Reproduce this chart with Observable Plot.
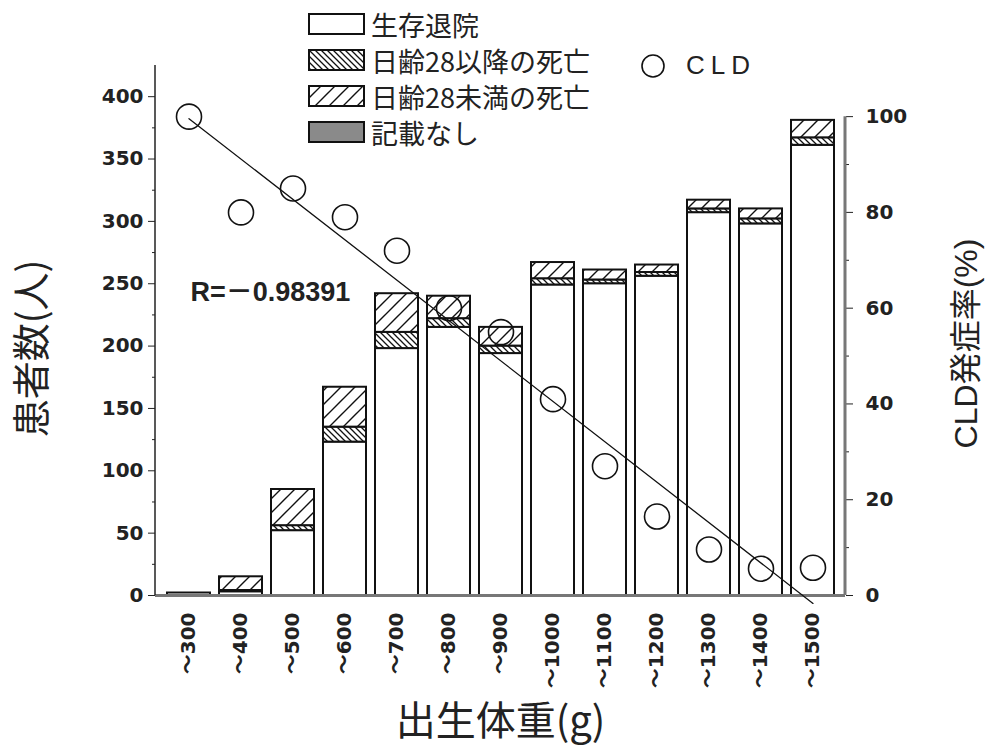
<!DOCTYPE html>
<html>
<head>
<meta charset="utf-8">
<script src="https://cdn.jsdelivr.net/npm/d3@7"></script>
<script src="https://cdn.jsdelivr.net/npm/@observablehq/plot@0.6"></script>
<style>
  body { margin: 0; background: #fff; }
  #wrap { position: relative; width: 986px; height: 756px; overflow: hidden; font-family: "Noto Sans CJK JP", sans-serif; color: #222; }
  #wrap > svg { position: absolute; left: 0; top: 0; }
  .legend { position: absolute; left: 308px; top: 6px; }
  .row { display: flex; align-items: center; height: 36px; font-size: 27px; line-height: 1; }
  .row svg { margin-right: 6px; flex: none; }
  .cldleg { position: absolute; left: 640px; top: 50px; display: flex; align-items: center; font-family: "Liberation Sans", sans-serif; font-size: 26px; letter-spacing: 6px; }
  .cldleg svg { margin-right: 20px; }
</style>
</head>
<body>
<svg width="0" height="0" style="position:absolute">
  <defs>
    <pattern id="pLate" patternUnits="userSpaceOnUse" width="6" height="6">
      <rect width="6" height="6" fill="white"/>
      <path d="M0,0L6,6M-1,5L1,7M5,-1L7,1" stroke="#111" stroke-width="1.3"/>
    </pattern>
    <pattern id="pEarly" patternUnits="userSpaceOnUse" width="14" height="14">
      <rect width="14" height="14" fill="white"/>
      <path d="M0,14L14,0M-2,2L2,-2M12,16L16,12" stroke="#111" stroke-width="1.4"/>
    </pattern>
  </defs>
</svg>
<div id="wrap"></div>
<script>
// ---- data ----
const categories = ["〜300","〜400","〜500","〜600","〜700","〜800","〜900","〜1000","〜1100","〜1200","〜1300","〜1400","〜1500"];
const statusNames = ["生存退院","日齢28以降の死亡","日齢28未満の死亡","記載なし"];
const alive      = [2, 3, 52, 123, 198, 215, 194, 249, 250, 256, 307, 298, 361];
const lateDeath  = [0, 1,  4,  12,  13,   7,   6,   5,   3,   3,   3,   4,   6];
const earlyDeath = [0, 11, 29, 32,  31,  18,  15,  13,   8,   6,   7,   8,  14];
const noRecord   = [0, 0,  0,   0,   0,   0,   0,   0,   0,   0,   0,   0,   0];
const cldRate    = [100, 80, 85, 79, 72, 60, 55, 41, 27, 16.5, 9.6, 5.6, 5.8];
const leftTicks  = [0, 50, 100, 150, 200, 250, 300, 350, 400];
const rightTicks = [0, 20, 40, 60, 80, 100];
const rLabel = "R=－0.98391";
const xTitle = "出生体重(g)";
const yTitle = "患者数(人)";
const y2Title = "CLD発症率(%)";
const cldLabel = "CLD";

// scale factor: 100% on right axis corresponds to 384 patients on left axis
const k = 3.84;

const series = [alive, lateDeath, earlyDeath, noRecord];
const stack = [];
categories.forEach((c, i) => {
  series.forEach((s, j) => { if (s[i] > 0) stack.push({cat: c, status: statusNames[j], value: s[i]}); });
});
const cld = categories.map((c, i) => ({cat: c, rate: cldRate[i]}));

// least-squares regression of CLD rate on category index
const idx = d3.range(categories.length);
const mx = d3.mean(idx), my = d3.mean(cldRate);
const b = d3.sum(idx, i => (i - mx) * (cldRate[i] - my)) / d3.sum(idx, i => (i - mx) ** 2);
const a = my - b * mx;
const fit = [0, categories.length - 1].map(i => ({cat: categories[i], y: (a + b * i) * k}));

const fillRange = ["white", "url(#pLate)", "url(#pEarly)", "#8a8a8a"];

const plot = Plot.plot({
  width: 986, height: 756,
  marginLeft: 155, marginRight: 141, marginTop: 65, marginBottom: 161,
  style: {fontFamily: "'DejaVu Sans','Noto Sans CJK JP',sans-serif", color: "#222", background: "white", overflow: "visible"},
  x: {type: "band", domain: categories, paddingInner: 0.18, paddingOuter: 0.11},
  y: {domain: [0, 425]},
  color: {type: "ordinal", domain: statusNames, range: fillRange},
  marks: [
    Plot.barY(stack, {x: "cat", y: "value", fill: "status", stroke: "#111", strokeWidth: 2}),
    Plot.ruleY([0], {stroke: "#777", strokeWidth: 3}),
    Plot.line(fit, {x: "cat", y: "y", stroke: "#111", strokeWidth: 1.3}),
    Plot.dot(cld, {x: "cat", y: d => d.rate * k, r: 12.5, stroke: "#111", strokeWidth: 1.6, fill: "none"}),
    Plot.axisY({ticks: leftTicks, tickSize: 7, tickPadding: 5, fontSize: 20, fontWeight: "bold", label: null}),
    Plot.axisY({ticks: leftTicks.slice(0, -1).map(v => v + 25), tickSize: 3, tickFormat: () => "", label: null}),
    Plot.axisY({anchor: "right", ticks: rightTicks.map(v => v * k), tickFormat: d => String(Math.round(d / k)), tickSize: 7, tickPadding: 13, fontSize: 20, fontWeight: "bold", label: null}),
    Plot.axisY({anchor: "right", ticks: rightTicks.slice(0, -1).map(v => (v + 10) * k), tickSize: 3, tickFormat: () => "", label: null}),
    Plot.axisX({tickSize: 0, tickPadding: 17, tickRotate: -90, fontSize: 20, fontWeight: "bold", label: null}),
    Plot.text([rLabel], {text: d => d, frameAnchor: "top-left", dx: 35, dy: 227, textAnchor: "start", lineAnchor: "middle", fontSize: 27, fontWeight: "bold", fontFamily: "Liberation Sans, 'Noto Sans CJK JP'"}),
    Plot.text([xTitle], {text: d => d, frameAnchor: "bottom", dy: 127, lineAnchor: "middle", textAnchor: "middle", fontSize: 40, fontFamily: "Noto Sans CJK JP"}),
    Plot.text([yTitle], {text: d => d, frameAnchor: "left", dx: -123, dy: 18, rotate: -90, textAnchor: "middle", lineAnchor: "middle", fontSize: 38, letterSpacing: 3, fontFamily: "Noto Sans CJK JP"}),
    Plot.text([y2Title], {text: d => d, frameAnchor: "right", dx: 121, dy: 13, rotate: -90, textAnchor: "middle", lineAnchor: "middle", fontSize: 32, fontFamily: "Liberation Sans, 'Noto Sans CJK JP'"})
  ]
});

// axis lines from the plot's own scales
const xs = plot.scale("x"), ys = plot.scale("y");
const svg = d3.select(plot);
const g = svg.append("g");
g.append("line").attr("x1", xs.range[0]).attr("x2", xs.range[0])
  .attr("y1", ys.range[1]).attr("y2", ys.apply(0)).attr("stroke", "#222").attr("stroke-width", 1.5);
g.append("line").attr("x1", xs.range[1]).attr("x2", xs.range[1])
  .attr("y1", ys.apply(100 * k)).attr("y2", ys.apply(0)).attr("stroke", "#777").attr("stroke-width", 3);

const wrap = document.getElementById("wrap");
wrap.appendChild(plot);

// legend
const leg = document.createElement("div");
leg.className = "legend";
statusNames.forEach((name, i) => {
  const row = document.createElement("div");
  row.className = "row";
  row.innerHTML = `<svg width="57" height="22"><rect x="1" y="1" width="55" height="20" fill="${fillRange[i]}" stroke="#111" stroke-width="2"/></svg><span>${name}</span>`;
  leg.appendChild(row);
});
wrap.appendChild(leg);

const cl = document.createElement("div");
cl.className = "cldleg";
cl.innerHTML = `<svg width="26" height="28"><circle cx="13" cy="14" r="11" fill="none" stroke="#111" stroke-width="1.6"/></svg><span>${cldLabel}</span>`;
wrap.appendChild(cl);
</script>
</body>
</html>
